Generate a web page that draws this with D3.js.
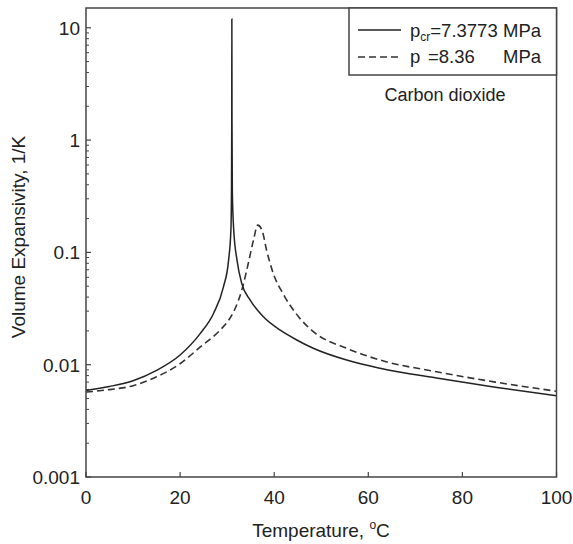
<!DOCTYPE html>
<html><head><meta charset="utf-8">
<script src="https://cdn.jsdelivr.net/npm/d3@7"></script>
<style>body{margin:0;background:#fff}svg{display:block}text{font-family:"Liberation Sans",Arial,sans-serif;fill:#222}</style>
</head><body><svg id="c" width="573" height="544"></svg>
<script>
// Temperature (°C) and volume expansivity (1/K) for CO2
const tempCrit = [0,5,10,15,20,24.3,27.1,29.2,30.3,30.8,30.93,30.98,31.0,31.03,31.1,31.4,32.1,33.1,34.9,37.7,41.3,44.8,48.3,55.4,62.5,74.5,87,100];
const betaCrit = [0.0059,0.0064,0.0072,0.0089,0.0122,0.019,0.0286,0.049,0.085,0.158,0.4,1.5,12,1.5,0.35,0.158,0.085,0.053,0.0376,0.0267,0.0203,0.0166,0.014,0.011,0.0093,0.0076,0.0063,0.0053];
const tempHigh = [0,5,10,15,20,24.3,28.5,30.2,31.6,33.1,34.5,35.6,36.5,37.4,38.4,39.8,42,45.1,48.3,55.4,62.5,74.5,87,100];
const betaHigh = [0.0057,0.006,0.0065,0.0078,0.0102,0.0144,0.0203,0.0245,0.031,0.046,0.08,0.129,0.175,0.158,0.104,0.065,0.042,0.027,0.0197,0.014,0.011,0.00865,0.007,0.0058];
const xTicks = [0,20,40,60,80,100];
const yTicks = [0.001,0.01,0.1,1,10];
const yTickLabels = ["0.001","0.01","0.1","1","10"];

const svg = d3.select("#c");
const L=86, R=556.5, T=8, B=477;
const x = d3.scaleLinear().domain([0,100]).range([L,R]);
const y = d3.scaleLog().domain([0.001,15]).range([B,T]);
const axisColor="#444";

// minor ticks
const minor=[];
for(let e=-3;e<=1;e++){for(let m=2;m<=9;m++){const v=m*Math.pow(10,e); if(v<=15) minor.push(v);}}
svg.append("g").selectAll("line").data(minor).join("line")
  .attr("x1",L).attr("x2",L+3).attr("y1",d=>y(d)).attr("y2",d=>y(d))
  .attr("stroke",axisColor).attr("stroke-width",1);
svg.append("g").selectAll("line").data(yTicks).join("line")
  .attr("x1",L).attr("x2",L+5).attr("y1",d=>y(d)).attr("y2",d=>y(d))
  .attr("stroke",axisColor).attr("stroke-width",1.2);
svg.append("g").selectAll("line").data(xTicks).join("line")
  .attr("x1",d=>x(d)).attr("x2",d=>x(d)).attr("y1",B).attr("y2",B-5)
  .attr("stroke",axisColor).attr("stroke-width",1.2);

// labels
svg.append("g").selectAll("text").data(yTicks).join("text")
  .attr("x",L-6).attr("y",d=>y(d)+7).attr("text-anchor","end")
  .style("font-size","19px").text((d,i)=>yTickLabels[i]);
svg.append("g").selectAll("text").data(xTicks).join("text")
  .attr("x",d=>x(d)).attr("y",B+27).attr("text-anchor","middle")
  .style("font-size","19px").text(d=>d);

// curves
const line = d3.line().x(d=>x(d[0])).y(d=>y(d[1])).curve(d3.curveMonotoneX);
const d1 = tempCrit.map((t,i)=>[t,betaCrit[i]]);
const d2 = tempHigh.map((t,i)=>[t,betaHigh[i]]);
svg.append("path").attr("d",line(d2)).attr("fill","none").attr("stroke","#333")
  .attr("stroke-width",1.6).attr("stroke-dasharray","7,4");
svg.append("path").attr("d",line(d1)).attr("fill","none").attr("stroke","#222")
  .attr("stroke-width",1.5);

// frame
svg.append("rect").attr("x",L).attr("y",T).attr("width",R-L).attr("height",B-T)
  .attr("fill","none").attr("stroke",axisColor).attr("stroke-width",1.5);

// legend
const lg = svg.append("g");
lg.append("rect").attr("x",349).attr("y",T).attr("width",R-349).attr("height",67)
  .attr("fill","#fff").attr("stroke",axisColor).attr("stroke-width",1.5);
lg.append("line").attr("x1",358).attr("x2",401).attr("y1",30).attr("y2",30)
  .attr("stroke","#222").attr("stroke-width",1.5);
lg.append("line").attr("x1",358).attr("x2",401).attr("y1",57).attr("y2",57)
  .attr("stroke","#333").attr("stroke-width",1.5).attr("stroke-dasharray","7,4");
const t1 = lg.append("text").attr("x",410).attr("y",37).style("font-size","18.5px");
t1.append("tspan").text("p");
t1.append("tspan").attr("dy",4).style("font-size","12px").text("cr");
t1.append("tspan").attr("dy",-4).text("=7.3773");
lg.append("text").attr("x",503).attr("y",37).style("font-size","18.5px").text("MPa");
lg.append("text").attr("x",410).attr("y",63).style("font-size","18.5px").text("p");
lg.append("text").attr("x",428).attr("y",63).style("font-size","18.5px").text("=8.36");
lg.append("text").attr("x",503).attr("y",63).style("font-size","18.5px").text("MPa");
svg.append("text").attr("x",445).attr("y",101).attr("text-anchor","middle")
  .style("font-size","18px").text("Carbon dioxide");

// axis titles
const xt = svg.append("text").attr("x",321).attr("y",537).attr("text-anchor","middle").style("font-size","19px");
xt.append("tspan").text("Temperature, ");
xt.append("tspan").attr("dy",-8).style("font-size","12px").text("o");
xt.append("tspan").attr("dy",8).text("C");
svg.append("text").attr("transform","translate(25,237) rotate(-90)")
  .attr("text-anchor","middle").style("font-size","19px").text("Volume Expansivity, 1/K");
</script></body></html>
